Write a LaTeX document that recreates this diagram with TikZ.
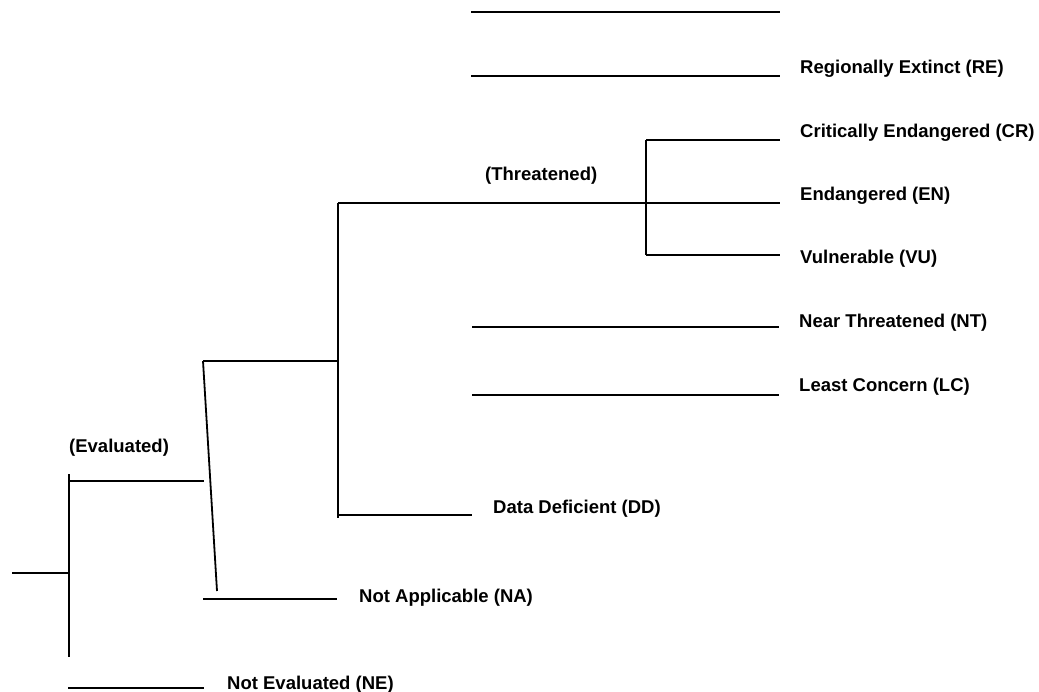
\documentclass[tikz,border=0pt]{standalone}
\usepackage{fontspec}
\setmainfont{Liberation Sans}
\begin{document}
\begin{tikzpicture}[x=1pt,y=-1pt,
  br/.style={line width=1.8pt, draw=black},
  lbl/.style={anchor=base west, inner sep=0pt, font=\fontsize{18.5}{22}\selectfont\bfseries}]
\useasboundingbox (0,0) rectangle (1039,691);
% coordinates
\coordinate (root) at (12,573);
\coordinate (rvm) at (69,573);
\coordinate (rvt) at (69,474);
\coordinate (rvb) at (69,657);
\coordinate (ev1) at (69,481);
\coordinate (ev2) at (204,481);
\coordinate (ne1) at (68,688);
\coordinate (ne2) at (204,688);
\coordinate (sl1) at (203,361);
\coordinate (sl2) at (217,591);
\coordinate (up2) at (338,361);
\coordinate (na1) at (203,599);
\coordinate (na2) at (337,599);
\coordinate (v2t) at (338,203);
\coordinate (v2b) at (338,518);
\coordinate (th2) at (780,203);
\coordinate (dd1) at (338,515);
\coordinate (dd2) at (472,515);
\coordinate (v3t) at (646,140);
\coordinate (v3b) at (646,255);
\coordinate (cr2) at (780,140);
\coordinate (vu2) at (780,255);
\coordinate (tp1) at (471,12);
\coordinate (tp2) at (780,12);
\coordinate (re1) at (471,76);
\coordinate (re2) at (780,76);
\coordinate (nt1) at (472,327);
\coordinate (nt2) at (779,327);
\coordinate (lc1) at (472,395);
\coordinate (lc2) at (779,395);
% lines
\draw[br] (root) -- (rvm);
\draw[br] (rvt) -- (rvb);
\draw[br] (ev1) -- (ev2);
\draw[br] (ne1) -- (ne2);
\draw[br] (sl1) -- (sl2);
\draw[br] (sl1) -- (up2);
\draw[br] (na1) -- (na2);
\draw[br] (v2t) -- (v2b);
\draw[br] (v2t) -- (th2);
\draw[br] (dd1) -- (dd2);
\draw[br] (v3t) -- (v3b);
\draw[br] (v3t) -- (cr2);
\draw[br] (v3b) -- (vu2);
\draw[br] (tp1) -- (tp2);
\draw[br] (re1) -- (re2);
\draw[br] (nt1) -- (nt2);
\draw[br] (lc1) -- (lc2);
% labels
\node[lbl] (lre) at (800,73) {Regionally Extinct (RE)};
\node[lbl] (lcr) at (800,137) {Critically Endangered (CR)};
\node[lbl] (len) at (800,200) {Endangered (EN)};
\node[lbl] (lvu) at (800,263) {Vulnerable (VU)};
\node[lbl] (lnt) at (799,327) {Near Threatened (NT)};
\node[lbl] (llc) at (799,391) {Least Concern (LC)};
\node[lbl] (ldd) at (493,513) {Data Deficient (DD)};
\node[lbl] (lna) at (359,602) {Not Applicable (NA)};
\node[lbl] (lne) at (227,689) {Not Evaluated (NE)};
\node[lbl] (lth) at (485,180) {(Threatened)};
\node[lbl] (lev) at (69,452) {(Evaluated)};
\end{tikzpicture}
\end{document}
